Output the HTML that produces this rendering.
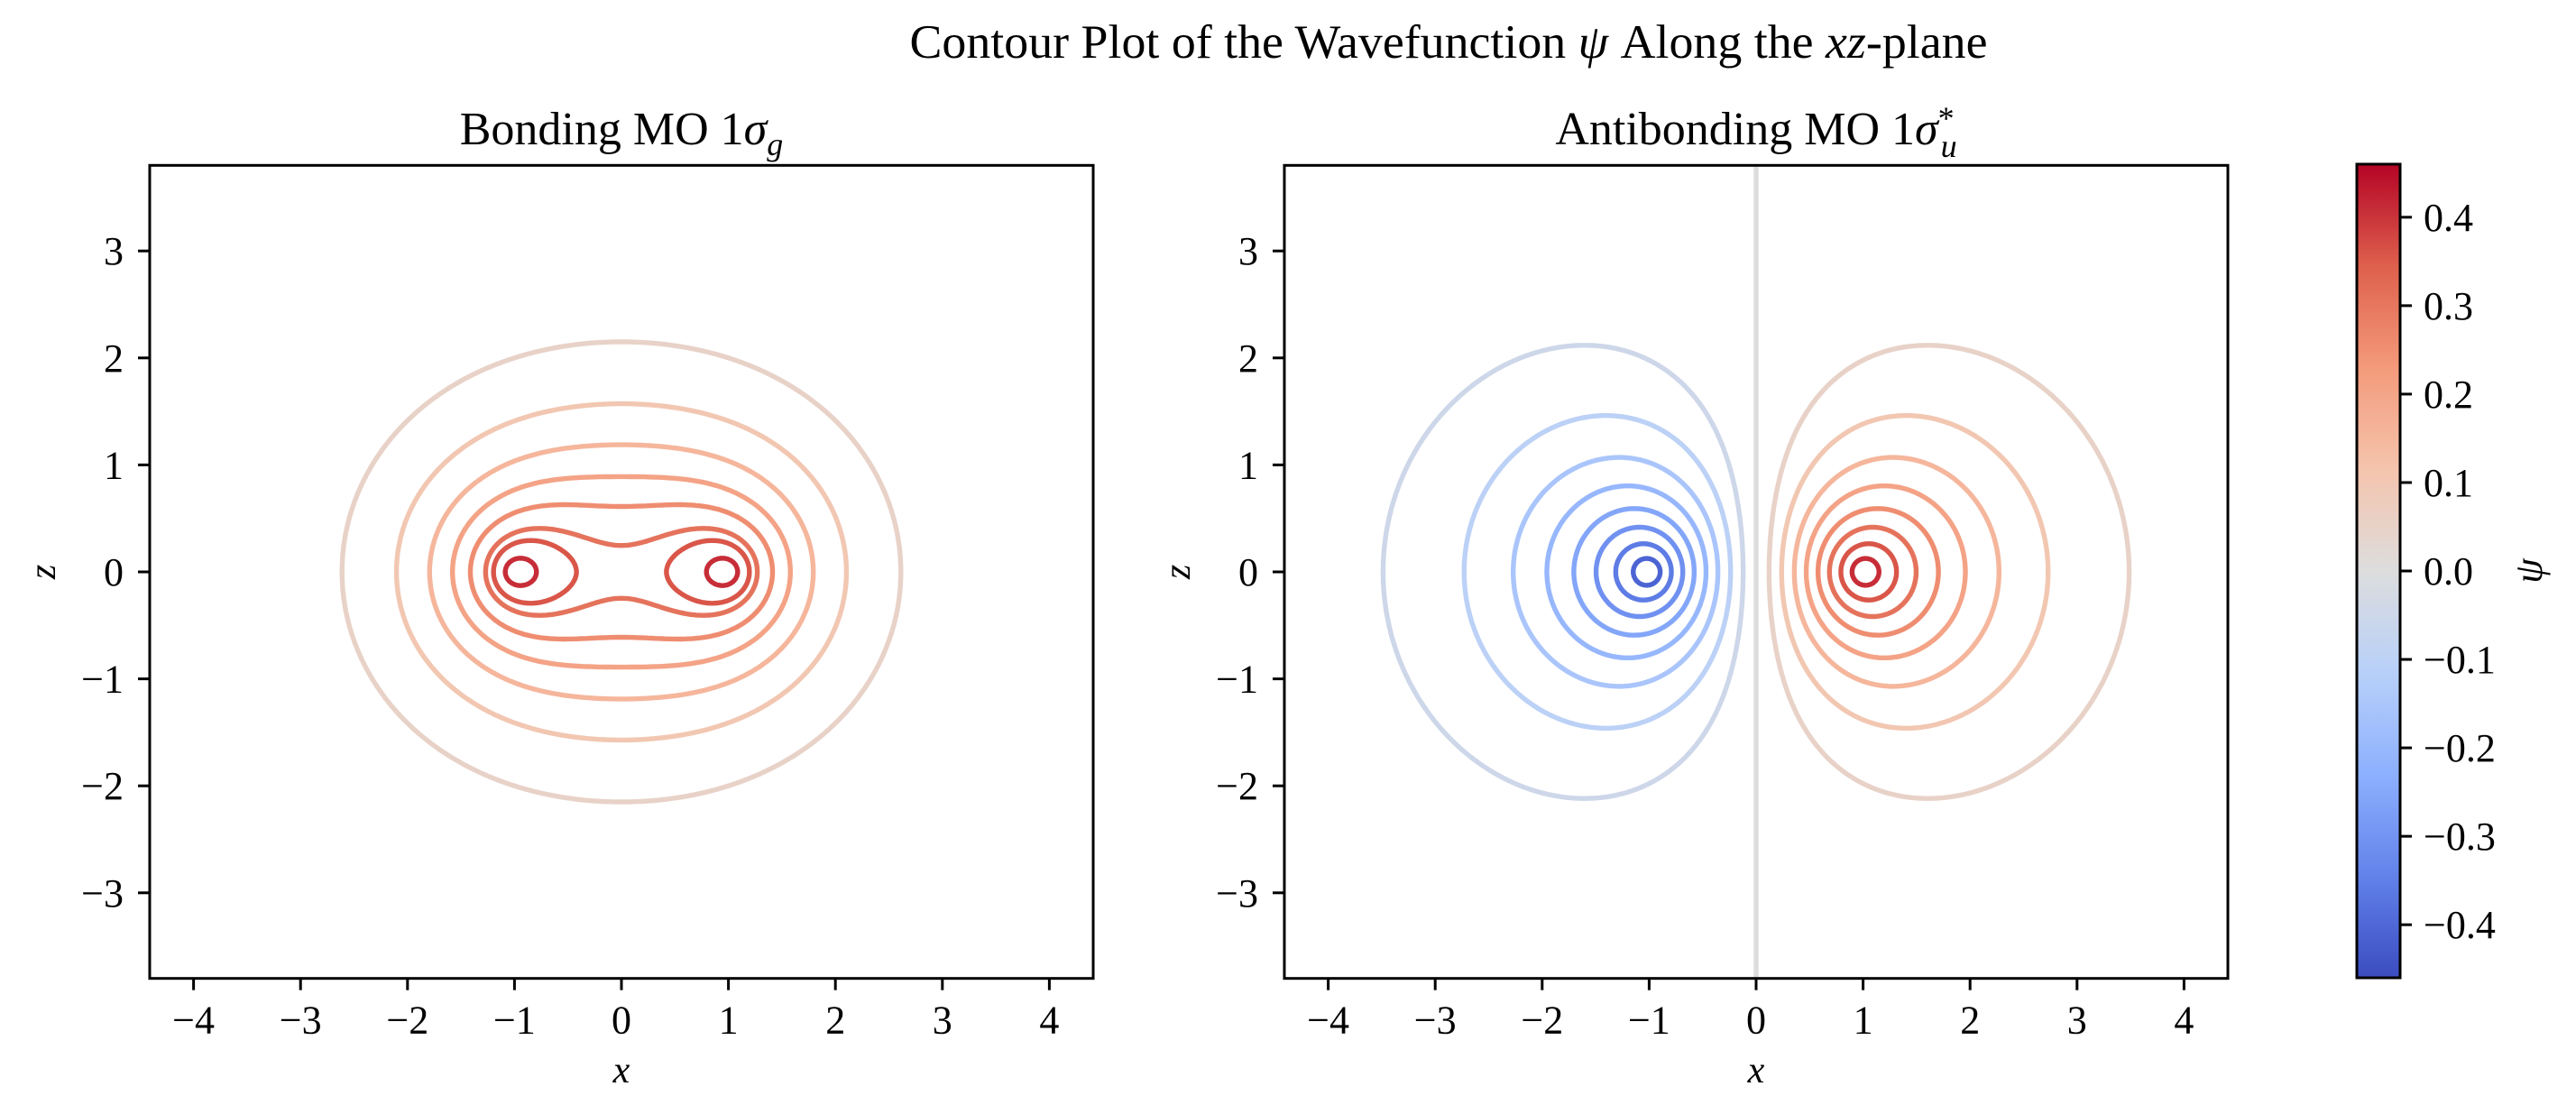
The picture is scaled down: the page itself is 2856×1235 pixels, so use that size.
<!DOCTYPE html>
<html><head><meta charset="utf-8">
<style>
html,body{margin:0;padding:0;background:#fff;}
svg{display:block;font-family:"Liberation Serif","DejaVu Serif",serif;}
</style></head>
<body>
<svg id="fig" width="2856" height="1235" viewBox="0 0 2856 1235" xmlns="http://www.w3.org/2000/svg">
<defs>
<linearGradient id="cw" x1="0" y1="1" x2="0" y2="0">
<stop offset="0" stop-color="rgb(59,76,192)"/>
<stop offset="0.125" stop-color="rgb(98,130,234)"/>
<stop offset="0.25" stop-color="rgb(141,176,254)"/>
<stop offset="0.375" stop-color="rgb(184,208,249)"/>
<stop offset="0.5" stop-color="rgb(221,221,221)"/>
<stop offset="0.625" stop-color="rgb(245,196,173)"/>
<stop offset="0.75" stop-color="rgb(244,154,123)"/>
<stop offset="0.875" stop-color="rgb(222,96,77)"/>
<stop offset="1" stop-color="rgb(180,4,38)"/>
</linearGradient>
<clipPath id="clipL"><rect x="166" y="182" width="1047" height="902"/></clipPath>
<clipPath id="clipR"><rect x="1424" y="182" width="1047" height="902"/></clipPath>
</defs>
<text x="1606" y="64" font-size="53" text-anchor="middle" textLength="1195" lengthAdjust="spacingAndGlyphs">Contour Plot of the Wavefunction <tspan font-style="italic">ψ</tspan> Along the <tspan font-style="italic">xz</tspan>-plane</text>
<text x="689" y="160" font-size="52" text-anchor="middle">Bonding MO 1<tspan font-style="italic">σ</tspan><tspan font-style="italic" font-size="36" dy="12">g</tspan></text>
<text x="1947" y="160" font-size="52" text-anchor="middle">Antibonding MO 1<tspan font-style="italic">σ</tspan><tspan font-size="36" dy="-17">*</tspan><tspan font-style="italic" font-size="36" dx="-15" dy="31">u</tspan></text>
<g id="panels"></g>
<g id="cbar"></g>
</svg>
<script>
// ---- data ----
const xTicks = [-4,-3,-2,-1,0,1,2,3,4];
const zTicks = [-3,-2,-1,0,1,2,3];
const cbarTicks = [-0.4,-0.3,-0.2,-0.1,0.0,0.1,0.2,0.3,0.4];
const psiLevels = [0.051,0.102,0.153,0.204,0.256,0.307,0.358,0.409];
const bondingThresholds = [0.611,0.788,0.920,1.024,1.113,1.195,1.240,1.310];
const antibondingThresholds = [0.089,0.176,0.266,0.353,0.443,0.534,0.630,0.730];
const nuclei = [-1, 1];
const bondingZeta = [0.5];
const antibondingZeta = [0.9];
const psiRange = [-0.46, 0.46];

const NS = "http://www.w3.org/2000/svg";
const X0 = [689, 1947], ZY0 = 634, PX = 118.6;
const XMIN = -4.41, XMAX = 4.41, ZMIN = -3.8, ZMAX = 3.8;
function sx(p, x){ return X0[p] + x*PX; }
function sy(z){ return ZY0 - z*PX; }

const cwStops = [[59,76,192],[98,130,234],[141,176,254],[184,208,249],[221,221,221],[245,196,173],[244,154,123],[222,96,77],[180,4,38]];
function coolwarm(v){
  let t = (v-psiRange[0])/(psiRange[1]-psiRange[0]);
  t = Math.max(0, Math.min(1, t))*8;
  const i = Math.min(7, Math.floor(t)), f = t-i;
  const a = cwStops[i], b = cwStops[i+1];
  return `rgb(${Math.round(a[0]+(b[0]-a[0])*f)},${Math.round(a[1]+(b[1]-a[1])*f)},${Math.round(a[2]+(b[2]-a[2])*f)})`;
}
function mk(tag, attrs, parent){
  const e = document.createElementNS(NS, tag);
  for (const k in attrs) e.setAttribute(k, attrs[k]);
  parent.appendChild(e); return e;
}
function field(kind, x, z){
  const r1 = Math.hypot(x-nuclei[0], z), r2 = Math.hypot(x-nuclei[1], z);
  if (kind === 0) return Math.exp(-bondingZeta[0]*r1) + Math.exp(-bondingZeta[0]*r2);
  return Math.exp(-antibondingZeta[0]*r2) - Math.exp(-antibondingZeta[0]*r1);
}
function contour(kind, level, p){
  const N = 360, M = 310;
  const dx = (XMAX-XMIN)/(N-1), dz = (ZMAX-ZMIN)/(M-1);
  const g = [];
  for (let j=0;j<M;j++){ const row=[]; for(let i=0;i<N;i++) row.push(field(kind, XMIN+i*dx, ZMIN+j*dz)); g.push(row); }
  let d = "";
  function interp(x1,z1,v1,x2,z2,v2){ const t=(level-v1)/(v2-v1); return [x1+(x2-x1)*t, z1+(z2-z1)*t]; }
  for (let j=0;j<M-1;j++) for (let i=0;i<N-1;i++){
    const x=XMIN+i*dx, z=ZMIN+j*dz;
    const c=[[x,z,g[j][i]],[x+dx,z,g[j][i+1]],[x+dx,z+dz,g[j+1][i+1]],[x,z+dz,g[j+1][i]]];
    const pts=[];
    for (let e=0;e<4;e++){ const a=c[e], b=c[(e+1)%4];
      if ((a[2]>=level)!==(b[2]>=level)) pts.push(interp(a[0],a[1],a[2],b[0],b[1],b[2])); }
    for (let k=0;k+1<pts.length;k+=2){
      d += `M${sx(p,pts[k][0]).toFixed(1)} ${sy(pts[k][1]).toFixed(1)}L${sx(p,pts[k+1][0]).toFixed(1)} ${sy(pts[k+1][1]).toFixed(1)}`;
    }
  }
  return d;
}
const panels = document.getElementById('panels');
for (let p=0;p<2;p++){
  const g = mk('g', {}, panels);
  
  
  const left = sx(p, XMIN), right = sx(p, XMAX), top = sy(ZMAX), bot = sy(ZMIN);
  const cg = mk('g', {'clip-path': p===0?'url(#clipL)':'url(#clipR)'}, g);
  const lv = [];
  if (p===0){ for (let k=0;k<psiLevels.length;k++) lv.push([bondingThresholds[k], psiLevels[k]]); }
  else {
    for (let k=psiLevels.length-1;k>=0;k--) lv.push([-antibondingThresholds[k], -psiLevels[k]]);
    lv.push([0, 0]);
    for (let k=0;k<psiLevels.length;k++) lv.push([antibondingThresholds[k], psiLevels[k]]);
  }
  lv.forEach((L) => {
    const path = mk('path', {d: contour(p, L[0], p), stroke: coolwarm(L[1]), 'stroke-width': 5.4, fill: 'none', 'stroke-linecap': 'round'}, cg);
    
    
  });
  const frame = mk('rect', {x:left, y:top, width:right-left, height:bot-top, fill:'none', stroke:'#000', 'stroke-width':3}, g);
  
  
  xTicks.forEach(t => {
    const X = sx(p,t);
    mk('line', {x1:X, x2:X, y1:bot, y2:bot+13, stroke:'#000','stroke-width':3}, g);
    const tx = mk('text', {x:X, y:bot+61, 'font-size':44, 'text-anchor':'middle'}, g);
    
    
    tx.textContent = t<0 ? '\u2212'+Math.abs(t) : String(t);
  });
  zTicks.forEach(t => {
    const Y = sy(t);
    mk('line', {x1:left-13, x2:left, y1:Y, y2:Y, stroke:'#000','stroke-width':3}, g);
    const tx = mk('text', {x:left-29, y:Y+15, 'font-size':44, 'text-anchor':'end'}, g);
    
    
    tx.textContent = t<0 ? '\u2212'+Math.abs(t) : String(t);
  });
  const xl = mk('text', {x:sx(p,0), y:1200, 'font-size':42, 'font-style':'italic', 'text-anchor':'middle'}, g);
  
  
  xl.textContent = 'x';
  const zl = mk('text', {x:0, y:0, 'font-size':42, 'font-style':'italic', 'text-anchor':'middle', transform:`translate(${left-105},${ZY0}) rotate(-90)`}, g);
  
  
  zl.textContent = 'z';
}
// colorbar
const cb = document.getElementById('cbar');
const CBL = 2613, CBR = 2661, CBT = 182, CBB = 1084;
function cy(v){ return CBB - (v-psiRange[0])/(psiRange[1]-psiRange[0])*(CBB-CBT); }
const cr = mk('rect', {x:CBL, y:CBT, width:CBR-CBL, height:CBB-CBT, fill:'url(#cw)', stroke:'#000', 'stroke-width':3}, cb);


cbarTicks.forEach(v => {
  const Y = cy(v);
  mk('line', {x1:CBR, x2:CBR+13, y1:Y, y2:Y, stroke:'#000','stroke-width':3}, cb);
  const tx = mk('text', {x:CBR+26, y:Y+15, 'font-size':44}, cb);
  
  
  tx.textContent = (v<0?'\u2212':'') + Math.abs(v).toFixed(1);
});
const pl = mk('text', {x:0, y:0, 'font-size':44, 'font-style':'italic', 'text-anchor':'middle', transform:`translate(2818,${cy(0)}) rotate(-90)`}, cb);


pl.textContent = 'ψ';
</script>
</body></html>
